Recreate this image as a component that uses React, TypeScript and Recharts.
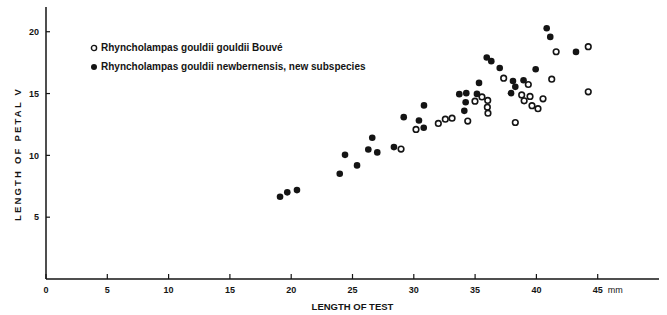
import React from 'react';
import { ScatterChart, Scatter, XAxis, YAxis, Legend, Label } from 'recharts';

const seriesNames = [
  'Rhyncholampas gouldii gouldii Bouvé',
  'Rhyncholampas gouldii newbernensis, new subspecies',
];

// Open circles: R. gouldii gouldii
const gouldiiX = [28.96, 30.18, 32.0, 32.57, 33.12, 34.4, 34.99, 35.56, 36.03, 36.0, 36.05, 37.33, 38.28, 38.8, 39.34, 39.48, 39.0, 39.64, 40.13, 40.54, 41.25, 41.61, 44.23, 44.23];
const gouldiiY = [10.51, 12.1, 12.58, 12.93, 13.01, 12.77, 14.38, 14.73, 14.44, 13.9, 13.41, 16.24, 12.66, 14.89, 15.73, 14.77, 14.41, 14.02, 13.78, 14.57, 16.16, 18.38, 18.79, 15.14];

// Filled circles: R. gouldii newbernensis
const newbernX = [19.09, 19.68, 20.47, 23.96, 24.39, 25.37, 26.61, 26.29, 27.02, 28.38, 29.18, 30.42, 30.81, 30.83, 33.71, 34.28, 35.15, 34.23, 34.12, 35.32, 35.95, 36.32, 37.01, 37.93, 38.09, 38.28, 38.95, 39.94, 40.84, 41.13, 43.23];
const newbernY = [6.65, 7.01, 7.19, 8.51, 10.04, 9.19, 11.42, 10.48, 10.24, 10.67, 13.09, 12.82, 12.23, 14.04, 14.95, 15.03, 14.97, 14.3, 13.6, 15.86, 17.92, 17.62, 17.07, 15.03, 16.02, 15.54, 16.08, 16.97, 20.28, 19.58, 18.37];

const xTicks = [0, 5, 10, 15, 20, 25, 30, 35, 40, 45];
const yTicks = [5, 10, 15, 20];
const xUnit = 'mm';
const xTitle = 'LENGTH OF TEST';
const yTitle = 'LENGTH OF PETAL V';

const gouldii = gouldiiX.map((x, i) => ({ x, y: gouldiiY[i] }));
const newbern = newbernX.map((x, i) => ({ x, y: newbernY[i] }));

const INK = '#141414';
const FONT = '"Liberation Sans", Arial, Helvetica, sans-serif';

const OpenDot = (p: any) => (
  <circle cx={p.cx} cy={p.cy} r={2.8} fill="#fff" stroke={INK} strokeWidth={1.6} />
);
const FilledDot = (p: any) => <circle cx={p.cx} cy={p.cy} r={3.3} fill={INK} />;

const XTick = (p: any) => {
  const { x, y, payload } = p;
  return (
    <g>
      <line x1={x} y1={y} x2={x} y2={y - 5} stroke={INK} strokeWidth={1.2} />
      <text x={x} y={y + 13.5} textAnchor="middle" fontSize={9} fontWeight="bold" fill={INK} fontFamily={FONT}>
        {payload.value}
      </text>
      {payload.value === xTicks[xTicks.length - 1] && (
        <text x={x + 10} y={y + 13.5} fontSize={9} fill={INK} fontFamily={FONT}>
          {xUnit}
        </text>
      )}
    </g>
  );
};

const YTick = (p: any) => {
  const { x, y, payload } = p;
  return (
    <g>
      <line x1={x} y1={y} x2={x + 4} y2={y} stroke={INK} strokeWidth={1.2} />
      <text x={x - 7} y={y} dy="0.35em" textAnchor="end" fontSize={9} fontWeight="bold" fill={INK} fontFamily={FONT}>
        {payload.value}
      </text>
    </g>
  );
};

const LegendContent = (props: any) => {
  const items = props.payload || [];
  return (
    <div style={{ fontFamily: FONT, fontSize: 10, fontWeight: 'bold', color: INK, lineHeight: '19px' }}>
      {items.map((it: any, i: number) => (
        <div key={i} style={{ display: 'flex', alignItems: 'center', whiteSpace: 'nowrap' }}>
          <svg width={8} height={8} style={{ marginRight: 3 }}>
            {it.value === seriesNames[0] ? (
              <circle cx={4} cy={4} r={2.6} fill="#fff" stroke={INK} strokeWidth={1.4} />
            ) : (
              <circle cx={4} cy={4} r={3} fill={INK} />
            )}
          </svg>
          <span>{it.value}</span>
        </div>
      ))}
    </div>
  );
};

const YTitle = () => (
  <text
    transform="translate(18,154) rotate(-90)"
    textAnchor="middle"
    dy="0.35em"
    fontSize={9.5}
    fontWeight="bold"
    letterSpacing={2.2}
    fill={INK}
    fontFamily={FONT}
  >
    {yTitle}
  </text>
);

export default function App() {
  return (
    <div style={{ position: 'absolute', left: 0, top: 0, background: '#fff' }}>
      <ScatterChart width={667} height={315} margin={{ top: 7, right: 8, bottom: 0, left: 0 }}>
        <XAxis
          type="number"
          dataKey="x"
          domain={[0, 50]}
          ticks={xTicks}
          interval={0}
          height={36}
          tickSize={0}
          tickMargin={0}
          tickLine={false}
          tick={<XTick />}
          axisLine={{ stroke: INK, strokeWidth: 1.5 }}
          allowDataOverflow
        >
          <Label
            value={xTitle}
            position="insideBottom"
            offset={5}
            fontSize={9.5}
            fontWeight="bold"
            fill={INK}
            fontFamily={FONT}
          />
        </XAxis>
        <YAxis
          type="number"
          dataKey="y"
          domain={[0, 22]}
          ticks={yTicks}
          interval={0}
          width={46}
          tickSize={0}
          tickMargin={0}
          tickLine={false}
          tick={<YTick />}
          axisLine={{ stroke: INK, strokeWidth: 1.5 }}
          allowDataOverflow
        >
          <Label content={<YTitle />} />
        </YAxis>
        <Legend
          layout="vertical"
          align="center"
          verticalAlign="middle"
          content={<LegendContent />}
          wrapperStyle={{ left: 90, top: 38, width: 320, height: 40 }}
        />
        <Scatter name={seriesNames[0]} data={gouldii} shape={OpenDot} isAnimationActive={false} legendType="circle" />
        <Scatter name={seriesNames[1]} data={newbern} shape={FilledDot} isAnimationActive={false} legendType="circle" />
      </ScatterChart>
    </div>
  );
}
